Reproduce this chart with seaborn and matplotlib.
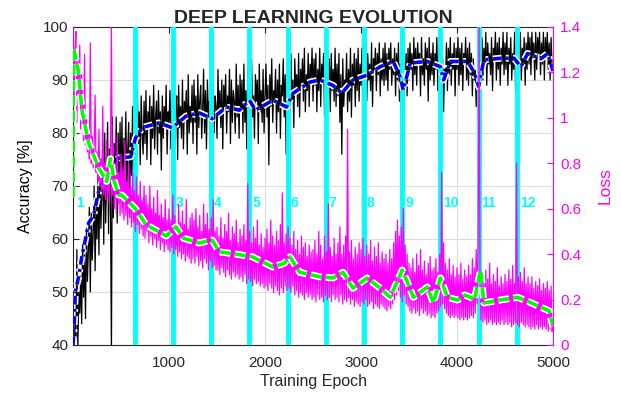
import numpy as np
import matplotlib
matplotlib.use("Agg")
import matplotlib.pyplot as plt
import matplotlib.patheffects as pe
import seaborn as sns

# ---------------- data ----------------
# raw accuracy sampled every 10 epochs (0..5000)
acc_raw = [
    40, 36, 44, 41, 58, 39, 50, 46, 53, 44, 60, 49, 57, 45, 62, 52, 58, 66, 50, 65, 56, 61, 70, 54, 66,
    60, 72, 57, 74, 62, 68, 78, 59, 80, 63, 71, 82, 61, 77, 68, 38, 83, 64, 78, 70, 83, 63, 80, 71, 82,
    69, 83, 66, 79, 73, 84, 68, 77, 82, 67, 80, 72, 85, 70, 78, 86, 75, 88, 78, 84, 74, 87, 80, 76, 86,
    78, 88, 75, 84, 81, 87, 74, 85, 79, 89, 77, 83, 86, 76, 88, 80, 84, 73, 87, 79, 85, 81, 89, 76, 84,
    82, 88, 77, 86, 80, 90, 78, 84, 87, 75, 89, 81, 85, 79, 90, 77, 86, 83, 88, 76, 91, 80, 85, 82, 89,
    78, 90, 82, 87, 76, 91, 81, 86, 89, 79, 84, 92, 80, 88, 77, 90, 83, 86, 78, 91, 82, 89, 80, 87, 85,
    79, 92, 83, 88, 81, 90, 77, 89, 85, 91, 80, 87, 84, 92, 78, 90, 82, 88, 86, 80, 93, 83, 89, 79, 91,
    84, 90, 80, 93, 82, 88, 77, 92, 85, 89, 81, 94, 83, 87, 79, 91, 86, 90, 78, 93, 84, 88, 82, 92, 80,
    87, 93, 83, 89, 74, 91, 85, 94, 82, 88, 86, 92, 80, 90, 84, 93, 79, 89, 87, 94, 83, 91, 76, 90, 85,
    92, 84, 95, 86, 90, 81, 94, 88, 91, 85, 95, 83, 92, 89, 94, 86, 96, 84, 91, 88, 95, 85, 93, 90, 96,
    86, 94, 89, 95, 84, 92, 88, 96, 85, 93, 90, 95, 83, 91, 87, 96, 89, 94, 84, 95, 88, 92, 86, 96, 85,
    93, 87, 95, 82, 91, 76, 94, 85, 90, 88, 95, 84, 92, 86, 96, 83, 93, 89, 95, 85, 94, 88, 96, 86, 93,
    89, 96, 87, 94, 91, 97, 86, 95, 90, 93, 88, 97, 85, 94, 92, 96, 88, 95, 91, 97, 87, 94, 90, 96, 89,
    97, 90, 95, 88, 96, 92, 97, 89, 94, 91, 96, 87, 95, 90, 97, 86, 93, 84, 90, 82, 88, 91, 95, 87, 96,
    90, 97, 92, 95, 88, 98, 91, 96, 89, 97, 93, 95, 87, 98, 91, 94, 89, 97, 92, 96, 86, 98, 90, 95, 91,
    97, 89, 95, 92, 98, 88, 96, 85, 93, 87, 94, 84, 92, 90, 97, 88, 96, 91, 98, 89, 95, 92, 97, 87, 96,
    92, 98, 89, 96, 91, 97, 88, 95, 93, 98, 90, 96, 89, 97, 91, 95, 87, 94, 90, 92, 85, 88, 82, 90, 86,
    94, 98, 90, 96, 92, 99, 89, 97, 93, 95, 91, 98, 88, 96, 94, 99, 90, 97, 92, 98, 89, 96, 93, 99, 91,
    97, 92, 99, 89, 96, 93, 98, 90, 95, 92, 99, 88, 97, 91, 98, 94, 99, 90, 96, 93, 98, 89, 97, 92, 99,
    93, 98, 91, 99, 94, 97, 90, 99, 92, 98, 95, 99, 91, 97, 93, 99, 90, 98, 94, 99, 92, 97, 90, 98, 93,
    92,
]
# raw loss sampled every 10 epochs (0..5000)
loss_raw = [
    1.40, 1.05, 1.30, 1.38, 0.98, 1.25, 1.10, 1.32, 0.95, 1.20, 1.05, 0.90, 1.28, 0.88, 1.00, 0.85, 0.96, 0.82, 1.33, 0.80, 0.92, 0.78, 0.88, 1.10, 0.76,
    0.85, 0.72, 0.95, 0.70, 0.82, 0.68, 1.05, 0.66, 0.80, 0.64, 0.90, 0.65, 0.78, 0.62, 0.85, 1.40, 0.66, 0.88, 0.60, 0.80, 0.58, 0.92, 0.62, 0.76, 0.57,
    0.84, 0.58, 0.78, 0.55, 0.90, 0.57, 0.72, 0.53, 0.80, 0.56, 0.70, 0.52, 0.76, 0.54, 0.68, 0.50, 0.74, 0.53, 0.66, 0.49, 0.72, 0.51, 0.64, 0.48, 0.70,
    0.47, 0.66, 0.50, 0.62, 0.45, 0.70, 0.48, 0.60, 0.44, 0.65, 0.47, 0.58, 0.43, 0.68, 0.46, 0.57, 0.42, 0.62, 0.45, 0.56, 0.41, 0.64, 0.44, 0.55, 0.42,
    0.60, 0.41, 0.55, 0.43, 0.66, 0.40, 0.57, 0.42, 0.52, 0.39, 0.62, 0.41, 0.54, 0.38, 0.59, 0.40, 0.53, 0.37, 0.64, 0.39, 0.51, 0.38, 0.56, 0.36, 0.58,
    0.38, 0.55, 0.36, 0.60, 0.39, 0.52, 0.35, 0.57, 0.37, 0.50, 0.34, 0.62, 0.38, 0.53, 0.36, 0.58, 0.33, 0.51, 0.37, 0.56, 0.34, 0.64, 0.35, 0.50, 0.33,
    0.52, 0.33, 0.48, 0.31, 0.56, 0.34, 0.47, 0.32, 0.53, 0.30, 0.50, 0.33, 0.58, 0.31, 0.46, 0.29, 0.52, 0.32, 0.49, 0.30, 0.55, 0.31, 0.45, 0.29, 0.51,
    0.30, 0.48, 0.28, 0.53, 0.31, 0.46, 0.27, 0.71, 0.29, 0.50, 0.28, 0.45, 0.26, 0.52, 0.29, 0.47, 0.27, 0.55, 0.28, 0.44, 0.26, 0.49, 0.27, 0.43, 0.25,
    0.47, 0.26, 0.51, 0.24, 0.45, 0.27, 0.55, 0.25, 0.48, 0.23, 0.44, 0.26, 0.50, 0.24, 0.46, 0.22, 0.53, 0.25, 0.67, 0.23, 0.45, 0.26, 0.49, 0.24, 0.52,
    0.25, 0.47, 0.23, 0.44, 0.26, 0.50, 0.22, 0.42, 0.24, 0.46, 0.21, 0.40, 0.23, 0.48, 0.22, 0.43, 0.20, 0.45, 0.23, 0.39, 0.21, 0.44, 0.22, 0.41, 0.20,
    0.42, 0.21, 0.46, 0.19, 0.40, 0.22, 0.50, 0.20, 0.44, 0.21, 0.38, 0.19, 0.48, 0.22, 0.41, 0.20, 0.62, 0.21, 0.43, 0.19, 0.39, 0.22, 0.47, 0.20, 0.40,
    0.21, 0.45, 0.19, 0.52, 0.22, 0.40, 0.18, 0.44, 0.20, 0.48, 0.19, 0.95, 0.21, 0.41, 0.18, 0.46, 0.20, 0.38, 0.17, 0.43, 0.19, 0.40, 0.18, 0.45, 0.17,
    0.42, 0.19, 0.47, 0.18, 0.39, 0.20, 0.44, 0.17, 0.40, 0.18, 0.46, 0.19, 0.37, 0.16, 0.43, 0.18, 0.39, 0.17, 0.45, 0.16, 0.36, 0.18, 0.41, 0.17, 0.38,
    0.16, 0.40, 0.15, 0.36, 0.17, 0.42, 0.16, 0.38, 0.18, 0.45, 0.20, 0.50, 0.22, 0.55, 0.24, 0.48, 0.21, 0.52, 0.19, 0.60, 0.22, 0.44, 0.18, 0.40, 0.17,
    0.36, 0.15, 0.34, 0.14, 0.38, 0.16, 0.32, 0.14, 0.40, 0.15, 0.35, 0.13, 0.42, 0.16, 0.33, 0.14, 0.37, 0.15, 0.31, 0.13, 0.36, 0.14, 0.39, 0.12, 0.33,
    0.13, 0.34, 0.12, 0.38, 0.14, 0.32, 0.15, 0.40, 0.17, 0.76, 0.18, 0.45, 0.16, 0.36, 0.14, 0.33, 0.13, 0.38, 0.12, 0.31, 0.13, 0.35, 0.12, 0.30, 0.13,
    0.34, 0.12, 0.31, 0.11, 0.36, 0.12, 0.29, 0.11, 0.33, 0.12, 0.30, 0.11, 0.35, 0.12, 0.31, 0.13, 0.38, 0.12, 0.34, 0.14, 0.42, 0.18, 0.45, 1.40, 0.25,
    0.11, 0.30, 0.10, 0.28, 0.11, 0.33, 0.09, 0.29, 0.10, 0.36, 0.11, 0.27, 0.09, 0.31, 0.10, 0.28, 0.09, 0.34, 0.10, 0.26, 0.09, 0.30, 0.11, 0.27, 0.09,
    0.31, 0.10, 0.28, 0.09, 0.33, 0.10, 0.29, 0.08, 0.35, 0.09, 0.27, 0.10, 0.80, 0.09, 0.30, 0.08, 0.32, 0.10, 0.28, 0.09, 0.34, 0.08, 0.27, 0.09, 0.30,
    0.08, 0.27, 0.07, 0.30, 0.08, 0.25, 0.07, 0.28, 0.09, 0.26, 0.07, 0.29, 0.08, 0.24, 0.07, 0.27, 0.08, 0.25, 0.07, 0.28, 0.06, 0.24, 0.07, 0.26, 0.06,
    0.08,
]
acc_epochs = np.linspace(0, 5000, len(acc_raw))
loss_epochs = np.linspace(0, 5000, len(loss_raw))

# smoothed accuracy
acc_s_epochs = [0, 15, 23, 60, 90, 130, 162, 215, 267, 340, 400, 476, 600, 650, 720, 895,
                1033, 1178, 1314, 1450, 1597, 1733, 1838, 1900, 2083, 2225, 2292, 2466, 2571,
                2707, 2800, 2916, 3063, 3199, 3335, 3408, 3440, 3513, 3691, 3827, 3860, 3932,
                4110, 4180, 4225, 4280, 4454, 4595, 4665, 4735, 4874, 4944, 5000]
acc_s = [40, 45, 50, 53, 56.5, 60, 63, 64.5, 69, 72.6, 74, 75.3, 75.5, 79, 81, 81.9,
         81, 83.2, 83.8, 82.7, 84.9, 84.3, 86.2, 84.3, 86.2, 84.9, 87.5, 89.6, 90,
         89, 87.5, 90, 90.9, 92.5, 93.5, 90.6, 88.1, 93.2, 93.5, 92.5, 90, 93.5,
         93.5, 91.4, 88.8, 93.8, 94.1, 94.1, 92.5, 95, 94, 95, 91.7]

# smoothed loss
loss_s_epochs = [0, 5, 58, 90, 162, 267, 350, 390, 430, 476, 508, 650, 760, 970, 1073, 1150,
                 1314, 1450, 1524, 1700, 1870, 2083, 2200, 2260, 2361, 2571, 2707, 2812, 2916,
                 3063, 3200, 3304, 3429, 3480, 3545, 3691, 3754, 3827, 3900, 4005, 4080, 4142,
                 4180, 4246, 4280, 4450, 4630, 4750, 4870, 4960, 5000]
loss_s = [0.65, 1.31, 1.2, 1.04, 0.89, 0.78, 0.72, 0.82, 0.72, 0.66, 0.66, 0.60, 0.53, 0.48, 0.52, 0.47,
          0.449, 0.462, 0.41, 0.40, 0.388, 0.343, 0.36, 0.388, 0.32, 0.30, 0.295, 0.32, 0.25,
          0.295, 0.25, 0.21, 0.33, 0.28, 0.21, 0.255, 0.185, 0.295, 0.21, 0.198, 0.22, 0.21,
          0.198, 0.33, 0.185, 0.198, 0.21, 0.19, 0.167, 0.15, 0.08]

stage_epochs = [645, 1043, 1440, 1838, 2236, 2634, 3031, 3429, 3827, 4225, 4623]
stage_labels = ["1", "2", "3", "4", "5", "6", "7", "8", "9", "10", "11", "12"]
label_epochs = [30] + [e + 30 for e in stage_epochs]

x_ticks = [1000, 2000, 3000, 4000, 5000]
acc_ticks = [40, 50, 60, 70, 80, 90, 100]
loss_ticks = [0, 0.2, 0.4, 0.6, 0.8, 1.0, 1.2, 1.4]
loss_ticklabels = ["0", "0.2", "0.4", "0.6", "0.8", "1", "1.2", "1.4"]

# ---------------- style ----------------
sns.set_style("white")
plt.rcParams["font.family"] = ["Liberation Sans", "DejaVu Sans"]

fig = plt.figure(figsize=(6.21, 3.94), dpi=100)
ax = fig.add_axes([0.1176, 0.1244, 0.7729, 0.8071])
ax2 = ax.twinx()

white_edge = [pe.Stroke(linewidth=5.0, foreground="white"), pe.Normal()]

# accuracy side
sns.lineplot(x=acc_epochs, y=acc_raw, ax=ax, color="black", linewidth=0.9,
             estimator=None, sort=False, zorder=2)
for e in stage_epochs:
    ax.axvline(e, color="#00FFFF", linewidth=3.5, zorder=3)
for e, t in zip(label_epochs, stage_labels):
    ax.text(e, 66.8, t, color="#00FFFF", fontsize=10, fontweight="bold",
            ha="left", va="center", zorder=3)
sns.lineplot(x=acc_s_epochs, y=acc_s, ax=ax, color="#0000FF", linewidth=2.6,
             linestyle=(0, (2.4, 1.2, 0.8, 1.2)), estimator=None, sort=False,
             path_effects=white_edge, zorder=4)

# loss side
sns.lineplot(x=loss_epochs, y=loss_raw, ax=ax2, color="#FF00FF", linewidth=0.9,
             estimator=None, sort=False, zorder=2)
sns.lineplot(x=loss_s_epochs, y=loss_s, ax=ax2, color="#00FF00", linewidth=2.6,
             linestyle=(0, (3, 1.2)), estimator=None, sort=False,
             path_effects=white_edge, zorder=4)

# axes formatting
ax.set_xlim(0, 5000)
ax.set_ylim(40, 100)
ax2.set_ylim(0, 1.4)
ax.set_xticks(x_ticks)
ax.set_yticks(acc_ticks)
ax2.set_yticks(loss_ticks)
ax2.set_yticklabels(loss_ticklabels)

ax.grid(True, color="#dcdcdc", linewidth=0.8)
ax.set_axisbelow(True)
ax2.grid(False)

ax.tick_params(axis="both", direction="in", top=True, right=False, labelsize=11,
               colors="#262626", length=4)
ax.tick_params(axis="x", pad=8)
ax2.tick_params(direction="in", labelsize=11, colors="#FF00FF", length=4, pad=5)

for s in ["left", "top", "bottom"]:
    ax.spines[s].set_color("#262626")
    ax.spines[s].set_linewidth(0.8)
    ax2.spines[s].set_visible(False)
ax.spines["right"].set_visible(False)
ax2.spines["right"].set_color("#FF00FF")
ax2.spines["right"].set_linewidth(0.8)

ax.set_xlabel("Training Epoch", fontsize=11.5, color="#262626", labelpad=3)
ax.set_ylabel("Accuracy [%]", fontsize=11.5, color="black", labelpad=7)
ax2.set_ylabel("Loss", fontsize=12.5, color="#FF00FF", labelpad=12)
ax.set_title("DEEP LEARNING EVOLUTION", fontsize=14, fontweight="bold", pad=3)

fig.savefig("out.png", dpi=100)
